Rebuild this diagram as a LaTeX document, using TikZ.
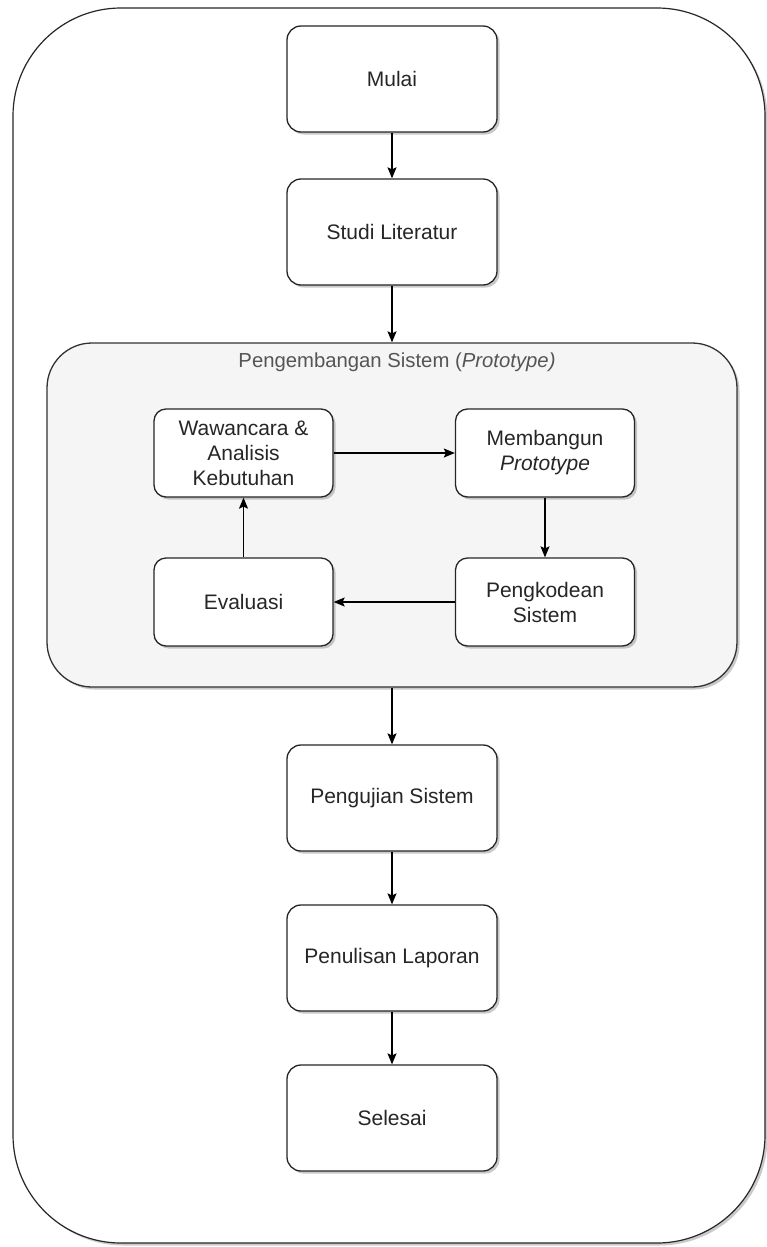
\documentclass[tikz,border=0pt]{standalone}
\usepackage{fontspec}
\setmainfont{Liberation Sans}
\usetikzlibrary{arrows.meta,shadows}
\definecolor{boxtext}{HTML}{262626}
\definecolor{titletext}{HTML}{555555}
\definecolor{groupfill}{HTML}{F5F5F5}
\begin{document}
\begin{tikzpicture}[x=1pt,y=-1pt,
  shade/.style={drop shadow={shadow xshift=2.5pt,shadow yshift=-2.5pt,opacity=0.35,fill=black!60}},
  stepbox/.style={draw=black!85,line width=1.3pt,fill=white,rounded corners=14pt,
    minimum width=210pt,minimum height=106pt,align=center,text=boxtext,
    font=\fontsize{21}{25}\selectfont,shade},
  innerbox/.style={stepbox,minimum width=179pt,minimum height=88pt,rounded corners=12pt},
  arr/.style={draw=black,line width=1.3pt,-{Stealth[length=11pt,width=9pt,inset=2pt]}}]
\useasboundingbox (0,0) rectangle (767,1247);

% outer frame
\draw[line width=1.2pt,draw=black!85,fill=white,rounded corners=108pt,shade]
  (13,8) rectangle (765,1243);

% main flow
\node[stepbox] (mulai) at (392,79) {Mulai};
\node[stepbox] (studi) at (392,232) {Studi Literatur};

% prototype group
\node[draw=black!80,line width=1.3pt,fill=groupfill,rounded corners=45pt,
  minimum width=690pt,minimum height=344pt,shade] (proto) at (392,515) {};
\node[text=titletext,font=\fontsize{20.3}{24}\selectfont] (ptitle) at (397,362)
  {Pengembangan Sistem (\textit{Prototype)}};

\node[innerbox] (waw) at (243.5,453) {Wawancara \&\\Analisis\\Kebutuhan};
\node[innerbox] (mem) at (545,453) {Membangun\\\textit{Prototype}};
\node[innerbox] (eva) at (243.5,602) {Evaluasi};
\node[innerbox] (kod) at (545,602) {Pengkodean\\Sistem};

\node[stepbox] (uji) at (392,798) {Pengujian Sistem};
\node[stepbox] (tulis) at (392,958) {Penulisan Laporan};
\node[stepbox] (selesai) at (392,1118) {Selesai};

% connectors
\draw[arr] (mulai) -- (studi);
\draw[arr] (studi) -- (proto);
\draw[arr] (waw) -- (mem);
\draw[arr] (mem) -- (kod);
\draw[arr] (kod) -- (eva);
\draw[arr] (eva) -- (waw);
\draw[arr] (proto) -- (uji);
\draw[arr] (uji) -- (tulis);
\draw[arr] (tulis) -- (selesai);
\end{tikzpicture}
\end{document}
